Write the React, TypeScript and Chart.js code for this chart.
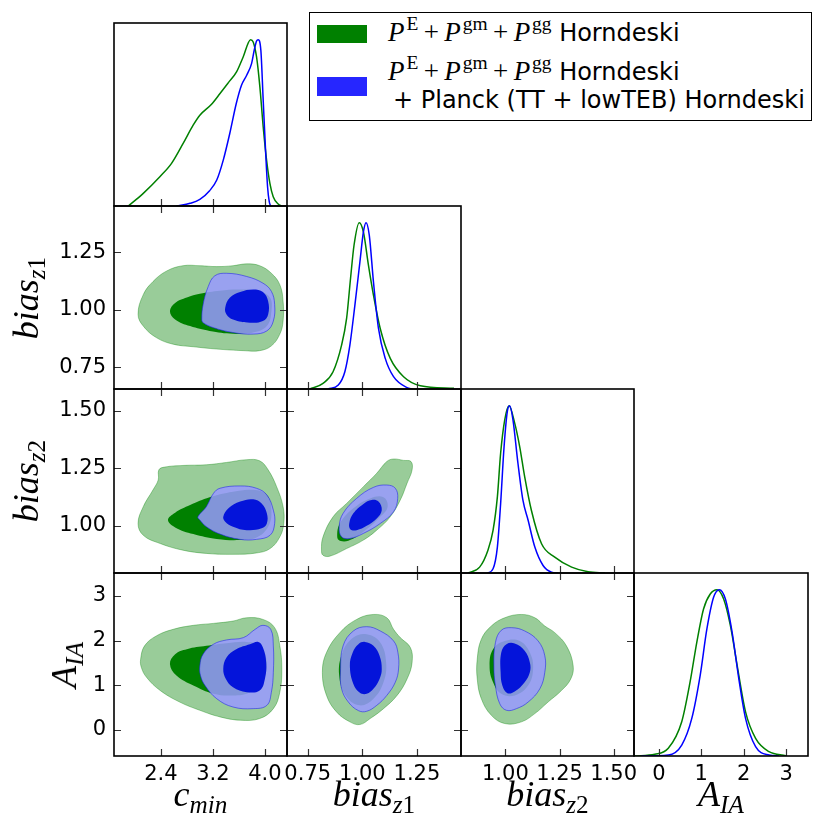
import React, { useEffect, useRef } from "react";
import { Chart, registerables } from "chart.js";

Chart.register(...registerables);
Chart.defaults.font.family = "DejaVu Sans";
Chart.defaults.color = "#000";

type Pt = [number, number];

// ---------------- parameters, axis ranges, tick values ----------------
const paramMain = ["c", "bias", "bias", "A"];
const paramSub = ["min", "z1", "z2", "IA"];

const cminRange: Pt = [1.68, 4.34];
const bz1Range: Pt = [0.655, 1.452];
const bz2Range: Pt = [0.795, 1.594];
const aiaRange: Pt = [-0.586, 3.515];
const densityRange: Pt = [0, 1.1];

const cminTicks = [2.4, 3.2, 4.0];
const bz1Ticks = [0.75, 1.0, 1.25];
const bz2Ticks = [1.0, 1.25, 1.5];
const aiaTicks = [0, 1, 2, 3];
const tickDecimals = [1, 2, 2, 0];

// ---------------- legend ----------------
const legendSup = ["E", "gm", "gg"];
const legendTail = "Horndeski";
const legendExtra = "+ Planck (TT + lowTEB) Horndeski";

// ---------------- 1D marginals (green = LSS only, blue = + Planck) ----------------
const cminGreen1D: Pt[] = [[1.90, 0], [2.13, 0.076], [2.385, 0.176], [2.565, 0.256], [2.743, 0.376], [2.897, 0.486], [3.0, 0.546], [3.18, 0.612], [3.31, 0.676], [3.436, 0.74], [3.564, 0.806], [3.666, 0.896], [3.78, 1.0], [3.82, 0.986], [3.872, 0.896], [3.923, 0.716], [3.974, 0.476], [4.026, 0.276], [4.077, 0.136], [4.128, 0.056], [4.205, 0.012], [4.256, 0]];
const cminBlue1D: Pt[] = [[2.64, 0], [2.85, 0.016], [3.0, 0.04], [3.15, 0.092], [3.26, 0.156], [3.36, 0.276], [3.46, 0.436], [3.56, 0.616], [3.64, 0.726], [3.72, 0.786], [3.795, 0.856], [3.836, 0.936], [3.872, 0.992], [3.897, 1.0], [3.938, 0.936], [3.974, 0.636], [4.01, 0.336], [4.041, 0.116], [4.067, 0.026], [4.087, 0]];
const bz1Green1D: Pt[] = [[0.759, 0], [0.82, 0.034], [0.866, 0.104], [0.905, 0.264], [0.928, 0.424], [0.946, 0.664], [0.962, 0.864], [0.986, 1.0], [1.005, 0.944], [1.028, 0.744], [1.051, 0.564], [1.082, 0.364], [1.128, 0.184], [1.189, 0.074], [1.266, 0.02], [1.42, 0.004]];
const bz1Blue1D: Pt[] = [[0.843, 0], [0.89, 0.024], [0.92, 0.104], [0.943, 0.264], [0.966, 0.504], [0.989, 0.764], [1.005, 0.944], [1.017, 1.0], [1.032, 0.924], [1.051, 0.644], [1.074, 0.364], [1.105, 0.184], [1.143, 0.074], [1.205, 0.008], [1.23, 0]];
const bz2Green1D: Pt[] = [[0.827, 0], [0.881, 0.035], [0.919, 0.135], [0.943, 0.255], [0.963, 0.455], [0.978, 0.716], [0.997, 0.916], [1.017, 1.0], [1.043, 0.896], [1.066, 0.756], [1.089, 0.576], [1.12, 0.375], [1.167, 0.175], [1.228, 0.095], [1.306, 0.035], [1.382, 0.007], [1.46, 0]];
const bz2Blue1D: Pt[] = [[0.919, 0], [0.943, 0.025], [0.963, 0.155], [0.978, 0.415], [0.994, 0.756], [1.009, 0.966], [1.02, 1.0], [1.035, 0.916], [1.058, 0.656], [1.081, 0.435], [1.105, 0.315], [1.136, 0.155], [1.174, 0.045], [1.213, 0.005], [1.244, 0]];
const aiaGreen1D: Pt[] = [[-0.57, 0], [-0.095, 0.01], [0.222, 0.046], [0.539, 0.206], [0.736, 0.445], [0.895, 0.685], [1.053, 0.884], [1.211, 0.974], [1.37, 1.0], [1.527, 0.944], [1.686, 0.784], [1.845, 0.545], [2.043, 0.265], [2.28, 0.106], [2.596, 0.026], [2.993, 0.002]];
const aiaBlue1D: Pt[] = [[-0.41, 0], [0.222, 0.006], [0.539, 0.066], [0.776, 0.226], [0.974, 0.485], [1.132, 0.764], [1.29, 0.954], [1.425, 1.0], [1.568, 0.944], [1.726, 0.745], [1.884, 0.465], [2.043, 0.226], [2.28, 0.056], [2.596, 0.006], [2.834, 0]];

// ---------------- 2D contours (95% and 68% regions) ----------------
// c_min vs bias_z1
const cminBz1G95: Pt[] = [[2.05, 0.98], [2.13, 1.066], [2.28, 1.123], [2.49, 1.169], [2.74, 1.192], [3.0, 1.192], [3.26, 1.188], [3.51, 1.192], [3.72, 1.2], [3.92, 1.192], [4.10, 1.159], [4.23, 1.109], [4.28, 1.037], [4.28, 0.951], [4.23, 0.894], [4.10, 0.843], [3.92, 0.822], [3.67, 0.822], [3.26, 0.829], [2.90, 0.839], [2.59, 0.85], [2.33, 0.879], [2.13, 0.929]];
const cminBz1G68: Pt[] = [[2.54, 0.994], [2.62, 1.03], [2.80, 1.054], [3.0, 1.07], [3.31, 1.083], [3.62, 1.088], [3.92, 1.08], [4.08, 1.052], [4.10, 0.994], [4.03, 0.929], [3.82, 0.901], [3.51, 0.896], [3.15, 0.908], [2.85, 0.929], [2.62, 0.958]];
const cminBz1B95: Pt[] = [[3.03, 0.958], [3.05, 1.023], [3.13, 1.102], [3.23, 1.148], [3.41, 1.159], [3.72, 1.145], [3.97, 1.116], [4.10, 1.08], [4.15, 1.023], [4.13, 0.951], [4.03, 0.908], [3.82, 0.894], [3.51, 0.901], [3.21, 0.922], [3.05, 0.944]];
const cminBz1B68: Pt[] = [[3.39, 1.009], [3.46, 1.052], [3.62, 1.077], [3.82, 1.088], [3.97, 1.077], [4.05, 1.037], [4.05, 0.98], [3.97, 0.951], [3.77, 0.944], [3.51, 0.958], [3.41, 0.98]];
// c_min vs bias_z2
const cminBz2G95: Pt[] = [[2.05, 1.01], [2.13, 1.083], [2.28, 1.156], [2.36, 1.199], [2.37, 1.243], [2.46, 1.255], [2.74, 1.262], [3.10, 1.265], [3.41, 1.275], [3.72, 1.287], [3.92, 1.282], [4.05, 1.243], [4.18, 1.17], [4.28, 1.083], [4.29, 1.01], [4.23, 0.952], [4.08, 0.901], [3.87, 0.882], [3.51, 0.876], [3.10, 0.88], [2.74, 0.894], [2.39, 0.923], [2.13, 0.959]];
const cminBz2G68: Pt[] = [[2.51, 1.025], [2.62, 1.057], [2.85, 1.09], [3.15, 1.124], [3.51, 1.148], [3.82, 1.156], [4.03, 1.134], [4.10, 1.068], [4.05, 0.996], [3.87, 0.949], [3.62, 0.938], [3.26, 0.943], [2.90, 0.964], [2.62, 0.993]];
const cminBz2B95: Pt[] = [[2.97, 1.039], [3.10, 1.083], [3.21, 1.141], [3.31, 1.163], [3.62, 1.173], [3.87, 1.163], [4.03, 1.134], [4.13, 1.068], [4.15, 1.01], [4.08, 0.959], [3.87, 0.941], [3.62, 0.941], [3.31, 0.964], [3.10, 0.996], [3.0, 1.025]];
const cminBz2B68: Pt[] = [[3.36, 1.039], [3.44, 1.076], [3.62, 1.105], [3.82, 1.115], [3.95, 1.097], [4.03, 1.054], [4.03, 1.01], [3.95, 0.989], [3.72, 0.981], [3.51, 0.996], [3.39, 1.018]];
// bias_z1 vs bias_z2
const bz1Bz2G95: Pt[] = [[0.813, 0.894], [0.82, 0.952], [0.866, 1.039], [0.928, 1.097], [1.005, 1.17], [1.066, 1.228], [1.112, 1.279], [1.143, 1.29], [1.189, 1.284], [1.223, 1.279], [1.228, 1.243], [1.205, 1.185], [1.174, 1.112], [1.128, 1.039], [1.066, 0.981], [1.005, 0.938], [0.928, 0.901], [0.851, 0.868], [0.82, 0.872]];
const bz1Bz2G68: Pt[] = [[0.885, 0.952], [0.897, 1.01], [0.959, 1.076], [1.036, 1.119], [1.097, 1.124], [1.116, 1.083], [1.082, 1.039], [1.005, 0.974], [0.936, 0.935], [0.897, 0.935]];
const bz1Bz2B95: Pt[] = [[0.894, 0.996], [0.912, 1.054], [0.974, 1.119], [1.051, 1.167], [1.112, 1.177], [1.151, 1.163], [1.162, 1.119], [1.143, 1.061], [1.082, 1.01], [1.005, 0.967], [0.943, 0.945], [0.905, 0.952]];
const bz1Bz2B68: Pt[] = [[0.94, 1.01], [0.959, 1.054], [1.005, 1.095], [1.043, 1.112], [1.074, 1.105], [1.089, 1.068], [1.066, 1.032], [1.02, 1.0], [0.974, 0.981], [0.946, 0.984]];
// c_min vs A_IA
const cminAiaG95: Pt[] = [[2.09, 1.586], [2.15, 1.882], [2.33, 2.104], [2.59, 2.253], [2.90, 2.342], [3.21, 2.386], [3.51, 2.438], [3.72, 2.512], [3.97, 2.475], [4.15, 2.29], [4.23, 1.882], [4.26, 1.364], [4.23, 0.845], [4.13, 0.475], [3.92, 0.253], [3.62, 0.216], [3.31, 0.29], [3.0, 0.438], [2.69, 0.623], [2.39, 0.882], [2.18, 1.178], [2.10, 1.401]];
const cminAiaG68: Pt[] = [[2.54, 1.475], [2.62, 1.697], [2.80, 1.808], [3.10, 1.882], [3.41, 1.941], [3.72, 1.971], [3.92, 1.882], [4.03, 1.512], [3.97, 1.142], [3.77, 0.845], [3.51, 0.771], [3.21, 0.808], [2.90, 0.993], [2.64, 1.216]];
const cminAiaB95: Pt[] = [[3.0, 1.438], [3.05, 1.697], [3.21, 1.919], [3.41, 2.015], [3.67, 2.067], [3.85, 2.253], [3.97, 2.342], [4.09, 2.253], [4.13, 1.882], [4.13, 1.29], [4.10, 0.845], [4.03, 0.549], [3.82, 0.475], [3.51, 0.512], [3.26, 0.697], [3.08, 0.993], [3.01, 1.216]];
const cminAiaB68: Pt[] = [[3.36, 1.364], [3.41, 1.623], [3.56, 1.808], [3.77, 1.919], [3.90, 1.971], [3.97, 1.845], [4.02, 1.512], [4.0, 1.142], [3.92, 0.882], [3.72, 0.845], [3.51, 0.956], [3.40, 1.142]];
// bias_z1 vs A_IA
const bz1AiaG95: Pt[] = [[0.817, 1.29], [0.836, 1.734], [0.897, 2.178], [0.974, 2.475], [1.051, 2.586], [1.112, 2.512], [1.143, 2.253], [1.174, 2.067], [1.22, 1.845], [1.228, 1.512], [1.205, 1.142], [1.159, 0.771], [1.097, 0.475], [1.036, 0.253], [0.989, 0.119], [0.943, 0.179], [0.882, 0.401], [0.836, 0.771]];
const bz1AiaG68: Pt[] = [[0.894, 1.216], [0.909, 1.734], [0.959, 2.067], [1.02, 2.142], [1.082, 1.956], [1.109, 1.512], [1.097, 1.067], [1.051, 0.697], [0.989, 0.549], [0.928, 0.734]];
const bz1AiaB95: Pt[] = [[0.90, 1.29], [0.912, 1.882], [0.959, 2.216], [1.02, 2.312], [1.082, 2.216], [1.143, 1.993], [1.163, 1.734], [1.166, 1.364], [1.151, 1.067], [1.112, 0.771], [1.066, 0.549], [1.02, 0.416], [0.982, 0.431], [0.936, 0.623], [0.905, 0.92]];
const bz1AiaB68: Pt[] = [[0.943, 1.438], [0.956, 1.734], [0.982, 1.919], [1.012, 1.971], [1.051, 1.882], [1.079, 1.66], [1.089, 1.364], [1.079, 1.142], [1.051, 0.92], [1.02, 0.808], [0.989, 0.831], [0.959, 1.03]];
// bias_z2 vs A_IA
const bz2AiaG95: Pt[] = [[0.87, 1.586], [0.889, 2.031], [0.935, 2.327], [0.997, 2.512], [1.074, 2.586], [1.136, 2.512], [1.182, 2.327], [1.228, 2.178], [1.282, 1.882], [1.313, 1.438], [1.302, 1.142], [1.259, 0.882], [1.197, 0.623], [1.136, 0.364], [1.074, 0.179], [0.997, 0.141], [0.935, 0.327], [0.889, 0.697], [0.87, 1.142]];
const bz2AiaG68: Pt[] = [[0.927, 1.438], [0.943, 1.808], [0.997, 1.993], [1.066, 1.993], [1.113, 1.734], [1.128, 1.364], [1.105, 0.993], [1.043, 0.771], [0.981, 0.808], [0.943, 1.067]];
const bz2AiaB95: Pt[] = [[0.947, 1.438], [0.954, 1.956], [0.981, 2.231], [1.028, 2.29], [1.089, 2.216], [1.151, 1.993], [1.182, 1.66], [1.182, 1.29], [1.159, 0.92], [1.105, 0.623], [1.051, 0.475], [1.005, 0.438], [0.974, 0.586], [0.954, 0.993]];
const bz2AiaB68: Pt[] = [[0.978, 1.29], [0.981, 1.734], [1.005, 1.919], [1.043, 1.934], [1.089, 1.771], [1.113, 1.512], [1.113, 1.29], [1.089, 1.067], [1.043, 0.86], [1.009, 0.823], [0.986, 0.993]];

// ---------------- assembling tables ----------------
const axisDefs = [
  { range: cminRange, ticks: cminTicks, dec: tickDecimals[0] },
  { range: bz1Range, ticks: bz1Ticks, dec: tickDecimals[1] },
  { range: bz2Range, ticks: bz2Ticks, dec: tickDecimals[2] },
  { range: aiaRange, ticks: aiaTicks, dec: tickDecimals[3] },
];
const densityDef = { range: densityRange, ticks: [] as number[], dec: 0 };

const marginals: Pt[][][] = [
  [cminGreen1D, cminBlue1D],
  [bz1Green1D, bz1Blue1D],
  [bz2Green1D, bz2Blue1D],
  [aiaGreen1D, aiaBlue1D],
];
const contours: Record<string, Pt[][]> = {
  "1-0": [cminBz1G95, cminBz1G68, cminBz1B95, cminBz1B68],
  "2-0": [cminBz2G95, cminBz2G68, cminBz2B95, cminBz2B68],
  "2-1": [bz1Bz2G95, bz1Bz2G68, bz1Bz2B95, bz1Bz2B68],
  "3-0": [cminAiaG95, cminAiaG68, cminAiaB95, cminAiaB68],
  "3-1": [bz1AiaG95, bz1AiaG68, bz1AiaB95, bz1AiaB68],
  "3-2": [bz2AiaG95, bz2AiaG68, bz2AiaB95, bz2AiaB68],
};

// ---------------- styling ----------------
const GREEN = "#008000";
const BLUE = "#0000ff";
const GREEN95_FILL = "rgb(153,204,153)";
const GREEN95_EDGE = "rgba(0,128,0,0.35)";
const GREEN68_FILL = "#008000";
const BLUE95_FILL = "rgba(153,153,255,0.85)";
const BLUE95_EDGE = "rgba(30,30,235,0.55)";
const BLUE68_FILL = "rgb(4,20,218)";
const TICK_FONT = { family: "DejaVu Sans", size: 21 };
const MATH_FONT = '"Liberation Serif", "DejaVu Serif", serif';

// ---------------- layout ----------------
const COLS = [114, 287, 461, 634, 808];
const ROWS = [23, 206, 389, 573, 756];
const PAGE_H = 831;
const M = 14;

const panels: { r: number; c: number }[] = [];
for (let r = 0; r < 4; r++) for (let c = 0; c <= r; c++) panels.push({ r, c });

function geom(r: number, c: number) {
  const leftAxis = c === 0 && r > 0;
  const bottomAxis = r === 3;
  const left = leftAxis ? 0 : COLS[c] - M;
  const top = ROWS[r] - M;
  const right = COLS[c + 1] + M;
  const bottom = bottomAxis ? PAGE_H : ROWS[r + 1] + M;
  return {
    left, top, width: right - left, height: bottom - top,
    pad: { left: leftAxis ? 0 : M, top: M, right: M, bottom: bottomAxis ? 0 : M },
    yAxisW: leftAxis ? COLS[0] : 0,
    xAxisH: bottomAxis ? PAGE_H - ROWS[4] : 0,
  };
}

const loopPlugin = {
  id: "closedContours",
  afterDatasetUpdate(chart: any, args: any) {
    const ds = chart.data.datasets[args.index];
    const line = args.meta && args.meta.dataset;
    if (ds && ds.closedShape && line) {
      line._loop = true;
      line._fullLoop = true;
      line._pointsUpdated = false;
      delete line._segments;
      delete line._path;
    }
  },
};

function framePlugin(diag: boolean) {
  return {
    id: "frameTicks",
    afterDraw(chart: any) {
      const { ctx, chartArea: a, scales } = chart;
      const L = 7;
      ctx.save();
      ctx.strokeStyle = "#333";
      ctx.lineWidth = 1.2;
      ctx.beginPath();
      for (const t of scales.x.ticks) {
        const px = Math.round(scales.x.getPixelForValue(t.value)) + 0.5;
        ctx.moveTo(px, a.bottom);
        ctx.lineTo(px, a.bottom - L);
        if (!diag) {
          ctx.moveTo(px, a.top);
          ctx.lineTo(px, a.top + L);
        }
      }
      if (!diag) {
        for (const t of scales.y.ticks) {
          const py = Math.round(scales.y.getPixelForValue(t.value)) + 0.5;
          ctx.moveTo(a.left, py);
          ctx.lineTo(a.left + L, py);
          ctx.moveTo(a.right, py);
          ctx.lineTo(a.right - L, py);
        }
      }
      ctx.stroke();
      ctx.strokeStyle = "#000";
      ctx.lineWidth = 1.6;
      ctx.strokeRect(a.left, a.top, a.right - a.left, a.bottom - a.top);
      ctx.restore();
    },
  };
}

function axisScale(def: any, display: boolean, horizontal: boolean, g: any) {
  return {
    type: "linear",
    min: def.range[0],
    max: def.range[1],
    display,
    position: horizontal ? "bottom" : "left",
    grid: { display: false, drawTicks: false },
    border: { display: false },
    ticks: {
      autoSkip: false,
      maxRotation: 0,
      minRotation: 0,
      padding: horizontal ? 6 : 8,
      color: "#000",
      font: TICK_FONT,
      callback: (v: any) => Number(v).toFixed(def.dec),
    },
    afterBuildTicks: (s: any) => {
      s.ticks = def.ticks.map((v: number) => ({ value: v }));
    },
    afterFit: (s: any) => {
      if (horizontal) s.height = g.xAxisH;
      else s.width = g.yAxisW;
      s.paddingLeft = 0;
      s.paddingRight = 0;
      s.paddingTop = 0;
      s.paddingBottom = 0;
    },
  };
}

const toXY = (pts: Pt[]) => pts.map(([x, y]) => ({ x, y }));

function curveDs(pts: Pt[], color: string, order: number) {
  return {
    data: toXY(pts), borderColor: color, borderWidth: 1.5, pointRadius: 0,
    fill: false, cubicInterpolationMode: "monotone", order,
  };
}
function contourDs(pts: Pt[], fillColor: string, edge: string, edgeWidth: number, order: number) {
  return {
    data: toXY(pts), backgroundColor: fillColor, borderColor: edge, borderWidth: edgeWidth,
    pointRadius: 0, fill: "shape", tension: 0.4, closedShape: true, order,
  };
}

function buildConfig(r: number, c: number): any {
  const g = geom(r, c);
  const diag = r === c;
  let datasets: any[];
  if (diag) {
    const [gr, bl] = marginals[c];
    datasets = [curveDs(bl, BLUE, 1), curveDs(gr, GREEN, 2)];
  } else {
    const [g95, g68, b95, b68] = contours[`${r}-${c}`];
    datasets = [
      contourDs(b68, BLUE68_FILL, BLUE68_FILL, 0, 1),
      contourDs(b95, BLUE95_FILL, BLUE95_EDGE, 1, 2),
      contourDs(g68, GREEN68_FILL, GREEN68_FILL, 0, 3),
      contourDs(g95, GREEN95_FILL, GREEN95_EDGE, 1, 4),
    ];
  }
  return {
    type: "line",
    data: { datasets },
    options: {
      responsive: false,
      animation: false,
      events: [],
      layout: { padding: g.pad, autoPadding: false },
      plugins: { legend: { display: false }, tooltip: { enabled: false } },
      scales: {
        x: axisScale(axisDefs[c], r === 3, true, g),
        y: axisScale(diag ? densityDef : axisDefs[r], c === 0 && r > 0, false, g),
      },
    },
    plugins: [loopPlugin, framePlugin(diag)],
  };
}

// ---------------- HTML text helpers ----------------
function Sub({ text }: { text: string }) {
  return (
    <span style={{ fontSize: "0.7em", position: "relative", top: "0.28em" }}>
      {text.split("").map((ch, i) =>
        /\d/.test(ch) ? <span key={i} style={{ fontStyle: "normal" }}>{ch}</span> : <span key={i}>{ch}</span>
      )}
    </span>
  );
}
function AxisLabel({ i }: { i: number }) {
  return (
    <>
      <span>{paramMain[i]}</span>
      <Sub text={paramSub[i]} />
    </>
  );
}
function PTerm({ sup }: { sup: string }) {
  return (
    <>
      <span style={{ fontStyle: "italic" }}>P</span>
      <span style={{ fontSize: "0.72em", position: "relative", top: "-0.55em", marginLeft: "0.1em" }}>{sup}</span>
    </>
  );
}
function PSum() {
  return (
    <span style={{ fontFamily: MATH_FONT, fontSize: 27 }}>
      {legendSup.map((s, i) => (
        <React.Fragment key={i}>
          {i > 0 && <span style={{ margin: "0 0.2em" }}>+</span>}
          <PTerm sup={s} />
        </React.Fragment>
      ))}
    </span>
  );
}

const labelBase: React.CSSProperties = {
  position: "absolute",
  fontFamily: MATH_FONT,
  fontStyle: "italic",
  fontSize: 36,
  lineHeight: "36px",
  whiteSpace: "nowrap",
  color: "#000",
};
const legendLine: React.CSSProperties = {
  position: "absolute",
  fontFamily: "DejaVu Sans",
  fontSize: 24,
  lineHeight: "24px",
  whiteSpace: "nowrap",
  color: "#000",
};

export default function App() {
  const refs = useRef<(HTMLCanvasElement | null)[]>([]);
  useEffect(() => {
    const charts = panels.map((p, i) => new Chart(refs.current[i] as HTMLCanvasElement, buildConfig(p.r, p.c)));
    return () => charts.forEach((ch) => ch.destroy());
  }, []);

  return (
    <div style={{ position: "absolute", left: 0, top: 0, width: 830, height: 831, overflow: "hidden", background: "#fff" }}>
      {panels.map((p, i) => {
        const g = geom(p.r, p.c);
        return (
          <canvas
            key={i}
            ref={(el) => {
              refs.current[i] = el;
            }}
            width={g.width}
            height={g.height}
            style={{ position: "absolute", left: g.left, top: g.top, width: g.width, height: g.height }}
          />
        );
      })}

      {[0, 1, 2, 3].map((c) => (
        <div key={"bt" + c} style={{ ...labelBase, left: (COLS[c] + COLS[c + 1]) / 2, top: 776, transform: "translateX(-50%)" }}>
          <AxisLabel i={c} />
        </div>
      ))}
      {[1, 2, 3].map((r) => (
        <div
          key={"lt" + r}
          style={{ ...labelBase, left: r === 3 ? 66 : 28, top: (ROWS[r] + ROWS[r + 1]) / 2, transform: "translate(-50%,-50%) rotate(-90deg)" }}
        >
          <AxisLabel i={r} />
        </div>
      ))}

      <div style={{ position: "absolute", left: 309, top: 12, width: 503, height: 109, border: "1.5px solid #000", boxSizing: "border-box", background: "#fff" }} />
      <div style={{ position: "absolute", left: 317, top: 25, width: 50, height: 18, background: GREEN }} />
      <div style={{ position: "absolute", left: 317, top: 77, width: 50, height: 19, background: "rgba(0,0,255,0.85)" }} />
      <div style={{ ...legendLine, left: 388, top: 20 }}>
        <PSum /> {legendTail}
      </div>
      <div style={{ ...legendLine, left: 388, top: 59 }}>
        <PSum /> {legendTail}
      </div>
      <div style={{ ...legendLine, left: 393, top: 88 }}>{legendExtra}</div>
    </div>
  );
}
